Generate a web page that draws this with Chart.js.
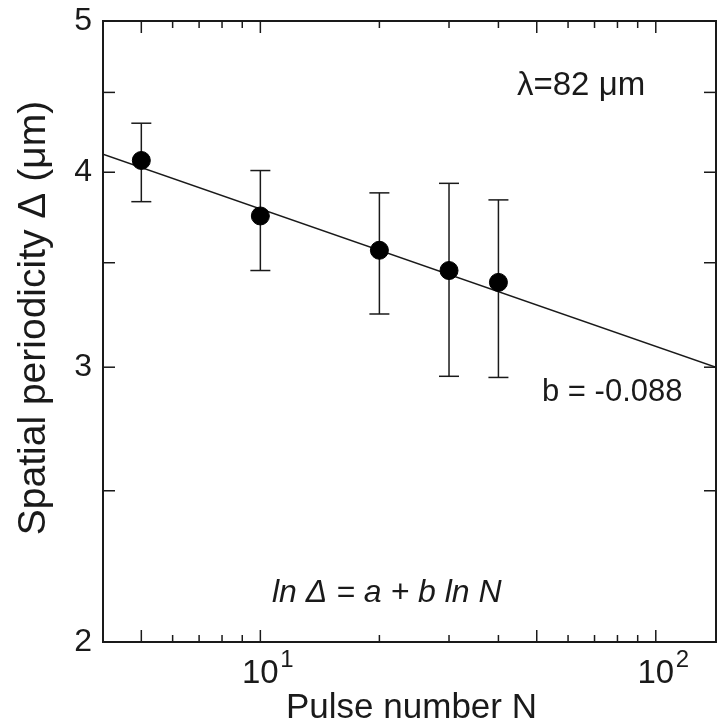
<!DOCTYPE html>
<html>
<head>
<meta charset="utf-8">
<script src="https://cdn.jsdelivr.net/npm/chart.js@4/dist/chart.umd.min.js"></script>
<style>
  html, body { margin: 0; padding: 0; background: #fff; overflow: hidden; }
  #wrap { width: 719px; height: 724px; position: relative; }
  canvas { display: block; }
</style>
</head>
<body>
<div id="wrap"><canvas id="chart"></canvas></div>
<script>
// pulse number N and measured spatial periodicity (um)
const pulseN = [5, 10, 20, 30, 40];
const periodMean = [4.07, 3.75, 3.565, 3.46, 3.40];
const periodLow = [3.83, 3.46, 3.245, 2.96, 2.955];
const periodHigh = [4.30, 4.01, 3.88, 3.935, 3.84];

// fitted power law ln D = a + b ln N, end points
const fitN = [4, 142];
const fitPeriod = [4.108, 3.0];

const xLabelTicks = [10, 100];
const xMajorTicks = [5, 10, 50, 100];
const xMinorTicks = [6, 7, 8, 9, 20, 30, 40, 60, 70, 80, 90];
const yLabelTicks = [2, 3, 4, 5];
const yMinorTicks = [2.5, 3.5, 4.5];

const FONT = "'Liberation Sans', Arial, Helvetica, sans-serif";
const INK = '#1a1a1a';

const errorSets = pulseN.map((n, i) => ({
  type: 'line',
  data: [{ x: n, y: periodLow[i] }, { x: n, y: periodHigh[i] }],
  borderColor: INK,
  borderWidth: 1.5,
  pointStyle: 'line',
  pointRadius: 10,
  pointBorderWidth: 1.5,
  pointBorderColor: INK,
  showLine: true,
  order: 3
}));

const noPad = s => { s.paddingTop = 0; s.paddingBottom = 0; s.paddingLeft = 0; s.paddingRight = 0; };

const frame = {
  id: 'frame',
  afterDraw(chart) {
    const { ctx, chartArea: a, scales: { x, y } } = chart;
    ctx.save();
    ctx.strokeStyle = INK;
    ctx.lineWidth = 2;
    ctx.strokeRect(a.left, a.top, a.right - a.left, a.bottom - a.top);

    ctx.lineWidth = 1.5;
    const tick = (x1, y1, x2, y2) => { ctx.beginPath(); ctx.moveTo(x1, y1); ctx.lineTo(x2, y2); ctx.stroke(); };
    xMajorTicks.concat(xMinorTicks).forEach(v => {
      const px = x.getPixelForValue(v);
      const len = xMajorTicks.includes(v) ? 12 : 7;
      tick(px, a.bottom, px, a.bottom - len);
      tick(px, a.top, px, a.top + len);
    });
    yLabelTicks.concat(yMinorTicks).forEach(v => {
      const py = y.getPixelForValue(v);
      tick(a.left, py, a.left + 12, py);
      tick(a.right, py, a.right - 12, py);
    });

    // x tick labels with exponents
    ctx.fillStyle = INK;
    ctx.textBaseline = 'alphabetic';
    xLabelTicks.forEach(v => {
      const px = x.getPixelForValue(v);
      ctx.font = '33px ' + FONT;
      ctx.textAlign = 'center';
      ctx.fillText('10', px, 683);
      ctx.font = '24px ' + FONT;
      ctx.textAlign = 'left';
      ctx.fillText(String(Math.round(Math.log10(v))), px + 20, 667);
    });

    // axis titles
    ctx.textAlign = 'center';
    ctx.font = '35px ' + FONT;
    ctx.fillText('Pulse number N', (a.left + a.right) / 2 + 2, 718);
    ctx.save();
    ctx.translate(45, 318);
    ctx.rotate(-Math.PI / 2);
    ctx.font = '39px ' + FONT;
    ctx.fillText('Spatial periodicity Δ (μm)', 0, 0);
    ctx.restore();

    // annotations
    ctx.textAlign = 'left';
    ctx.font = '33px ' + FONT;
    ctx.fillText('λ=82 μm', 517, 95);
    ctx.font = '31px ' + FONT;
    ctx.fillText('b = -0.088', 542, 401);
    ctx.font = 'italic 32px ' + FONT;
    ctx.fillText('ln Δ = a + b ln N', 272, 602);
    ctx.restore();
  }
};

new Chart(document.getElementById('chart'), {
  type: 'scatter',
  data: {
    datasets: [
      {
        type: 'scatter',
        data: pulseN.map((n, i) => ({ x: n, y: periodMean[i] })),
        backgroundColor: '#000',
        borderColor: '#000',
        pointRadius: 9,
        pointHoverRadius: 9,
        order: 1
      },
      {
        type: 'line',
        data: fitN.map((n, i) => ({ x: n, y: fitPeriod[i] })),
        borderColor: INK,
        borderWidth: 1.5,
        pointRadius: 0,
        order: 2
      },
      ...errorSets
    ]
  },
  options: {
    responsive: true,
    maintainAspectRatio: false,
    animation: false,
    events: [],
    layout: { autoPadding: false, padding: { top: 21, right: 3, left: 0, bottom: 0 } },
    plugins: { legend: { display: false }, tooltip: { enabled: false } },
    scales: {
      x: {
        type: 'logarithmic',
        min: 4,
        max: 142,
        grid: { display: false, drawTicks: false },
        border: { display: false },
        ticks: { display: false },
        afterFit(s) { s.height = 82; noPad(s); }
      },
      y: {
        type: 'logarithmic',
        min: 2,
        max: 5,
        grid: { display: false, drawTicks: false },
        border: { display: false },
        afterBuildTicks(s) { s.ticks = yLabelTicks.map(v => ({ value: v })); },
        ticks: {
          color: INK,
          padding: 11,
          font: { family: FONT, size: 32 },
          callback: v => String(v)
        },
        afterFit(s) { s.width = 103; noPad(s); }
      }
    }
  },
  plugins: [frame]
});
</script>
</body>
</html>
